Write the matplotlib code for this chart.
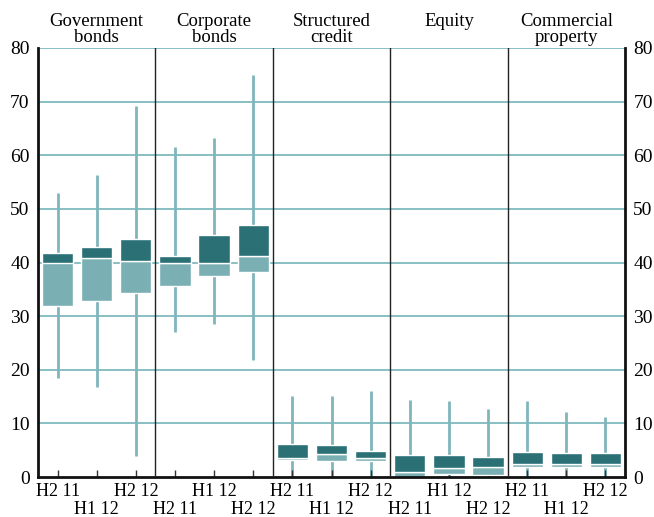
import matplotlib
matplotlib.use("Agg")
import matplotlib.pyplot as plt
import matplotlib.transforms as mtransforms
import numpy as np

# asset classes (panels) and periods within each panel
panels = ["Government\nbonds", "Corporate\nbonds", "Structured\ncredit", "Equity", "Commercial\nproperty"]
periods = ["H2 11", "H1 12", "H2 12"]

# box statistics, per panel, per period (percent)
lo_whisk = [18.5, 16.8, 3.9,   27.0, 28.5, 21.8,   0, 0, 0,         0, 0, 0,         0, 0, 0]
q1       = [31.9, 32.8, 34.3,  35.7, 37.4, 38.2,   3.1, 3.0, 3.0,   0.0, 0.5, 0.4,   1.8, 1.8, 1.8]
median   = [40.0, 40.9, 40.2,  40.0, 40.0, 41.2,   3.5, 4.2, 3.5,   0.95, 1.6, 1.8,  2.4, 2.4, 2.4]
q3       = [41.7, 42.8, 44.4,  41.2, 45.2, 47.0,   6.2, 5.9, 4.9,   4.1, 4.1, 3.7,   4.6, 4.5, 4.4]
hi_whisk = [52.9, 56.4, 69.2,  61.5, 63.2, 75.0,   15.1, 15.1, 16.1, 14.4, 14.2, 12.7, 14.2, 12.1, 11.1]

dark = "#2a7075"
light = "#7aafb4"
whisk_c = "#80b6bb"
grid_c = "#74b5ba"

plt.rcParams['font.family'] = ['Liberation Serif', 'DejaVu Serif']
fs = 13.5

fig = plt.figure(figsize=(6.54, 5.17), dpi=100)
ax = fig.add_axes([38/654, 1-477/517, 587/654, 429/517])

x = np.arange(len(q1))
q1 = np.array(q1); median = np.array(median); q3 = np.array(q3)

# gridlines
for g in range(10, 90, 10):
    ax.axhline(g, color=grid_c, lw=1.2, zorder=0)

# whiskers
ax.vlines(x, lo_whisk, hi_whisk, color=whisk_c, lw=2, zorder=1)

# boxes: light lower half, dark upper half, white outlines
ax.bar(x, median - q1, bottom=q1, width=0.8, color=light, edgecolor="white", lw=1, zorder=2)
ax.bar(x, q3 - median, bottom=median, width=0.8, color=dark, edgecolor="white", lw=1, zorder=2)

# panel dividers
for d in [2.5, 5.5, 8.5, 11.5]:
    ax.axvline(d, color="#222222", lw=1, zorder=3)

ax.set_xlim(-0.5, 14.5)
ax.set_ylim(0, 80)

ax.spines["top"].set_visible(False)
for s in ["left", "right", "bottom"]:
    ax.spines[s].set_linewidth(2)
    ax.spines[s].set_color("#111111")

ax.set_yticks(range(0, 90, 10))
ax.tick_params(axis="y", length=0, labelsize=14, pad=6, labelright=True, right=False)
ax.set_xticks(x)
ax.set_xticklabels([])
ax.tick_params(axis="x", direction="in", length=5, width=1, color="#333333")

# two-row x labels
trans = mtransforms.blended_transform_factory(ax.transData, fig.transFigure)
for i in range(len(x)):
    lab = periods[i % 3]
    ypix = 491 if i % 2 == 0 else 510
    ax.text(i, 1 - ypix/517, lab, transform=trans, ha="center", va="center", fontsize=13)

# panel titles
for j, t in enumerate(panels):
    ax.text(3*j + 1, 1 - 13/517, t, transform=trans, ha="center", va="top",
            fontsize=fs, linespacing=0.92)

fig.savefig("out.png", dpi=100)
